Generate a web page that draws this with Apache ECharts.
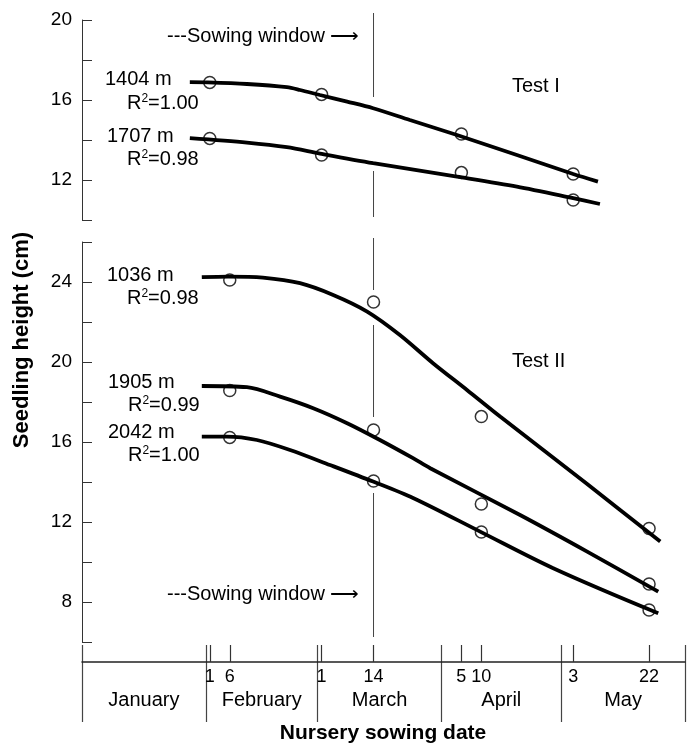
<!DOCTYPE html>
<html>
<head>
<meta charset="utf-8">
<script src="https://cdn.jsdelivr.net/npm/echarts@6/dist/echarts.min.js"></script>
<style>
  html, body { margin: 0; padding: 0; background: #fff; }
  #chart { width: 689px; height: 745px; }
</style>
</head>
<body>
<div id="chart"></div>
<script>
// calendar: day 0 = start of 1 January, day 151 = start of 1 June
const monthStarts = [0, 31, 59, 90, 120, 151];
const monthNames = ['January', 'February', 'March', 'April', 'May'];
const tickDates = [[2, 1], [2, 6], [3, 1], [3, 14], [4, 5], [4, 10], [5, 3], [5, 22]];
const sowingWindowDate = [3, 14];

// observed seedling heights (cm)
const datesTestI = [[2, 1], [3, 1], [4, 5], [5, 3]];
const datesTestII = [[2, 6], [3, 14], [4, 10], [5, 22]];
const obs1404 = [16.88, 16.28, 14.3, 12.3];
const obs1707 = [14.08, 13.25, 12.37, 11.0];
const obs1036 = [24.1, 23.0, 17.27, 11.68];
const obs1905 = [18.57, 16.6, 12.9, 8.9];
const obs2042 = [16.23, 14.05, 11.5, 7.6];

// fitted curves: [day, height]
const fit1404 = [[27, 16.89], [31.5, 16.88], [41.3, 16.8], [51.3, 16.64], [54.6, 16.5], [59.6, 16.25],
  [66.4, 15.92], [72.9, 15.59], [82.1, 15.0], [93.9, 14.25], [108.9, 13.25], [123, 12.3], [129.2, 11.92]];
const fit1707 = [[27, 14.09], [41.3, 13.87], [51.3, 13.64], [59.6, 13.32], [72.9, 12.84], [93.9, 12.17],
  [108.9, 11.67], [123, 11.09], [129.7, 10.8]];
const fit1036 = [[30, 24.24], [36.6, 24.27], [45.3, 24.22], [54.6, 23.94], [62.9, 23.35], [71.4, 22.52],
  [79.6, 21.35], [87.9, 19.94], [96.4, 18.6], [104.7, 17.27], [126.5, 13.9], [144.8, 11.02]];
const fit1905 = [[30, 18.8], [41.3, 18.74], [49.6, 18.27], [57.9, 17.69], [66.4, 16.94], [74.6, 16.1],
  [82.9, 15.19], [87.2, 14.69], [109.7, 12.35], [126.5, 10.52], [144.3, 8.52]];
const fit2042 = [[30, 16.27], [36.2, 16.27], [43.8, 16.1], [52.1, 15.6], [62.1, 14.85], [72.9, 14.02],
  [82.9, 13.2], [99.7, 11.52], [118, 9.69], [144.3, 7.44]];

// sowing window marker pieces (height ranges)
const sowingTestI = [[20.35, 16.15], [12.45, 10.15]];
const sowingTestII = [[26.2, 23.6], [21.85, 17.25], [13.45, 6.25]];

const FONT = "'Liberation Sans', Arial, sans-serif";

function doy(d) { return monthStarts[d[0] - 1] + d[1]; }

const tickDays = tickDates.map(doy);
const dayLabel = {};
tickDates.forEach(d => { dayLabel[doy(d)] = String(d[1]); });
const monthMids = monthNames.map((m, i) => (monthStarts[i] + monthStarts[i + 1]) / 2);
const monthLabel = {};
monthMids.forEach((v, i) => { monthLabel[v] = monthNames[i]; });

function yAxisFor(grid, min, max) {
  return {
    gridIndex: grid, type: 'value', min: min, max: max, interval: 2,
    axisLine: { show: true, onZero: false, lineStyle: { color: '#333', width: 1 } },
    axisTick: { show: true, inside: true, length: 10, lineStyle: { color: '#333' } },
    axisLabel: { margin: 10, fontSize: 19, color: '#000', fontFamily: FONT,
      formatter: v => (v % 4 === 0 ? String(v) : '') },
    splitLine: { show: false }
  };
}

const series = [];
function addTest(grid, dates, obs, fit) {
  series.push({
    type: 'scatter', xAxisIndex: grid, yAxisIndex: grid, z: 2,
    data: dates.map((d, i) => [doy(d), obs[i]]),
    symbol: 'circle', symbolSize: 12,
    itemStyle: { color: 'rgba(0,0,0,0)', borderColor: '#000', borderWidth: 1.5 }
  });
  series.push({
    type: 'line', xAxisIndex: grid, yAxisIndex: grid, z: 3,
    data: fit, smooth: 0.3, showSymbol: false,
    lineStyle: { color: '#000', width: 3.8 }
  });
}
addTest(0, datesTestI, obs1404, fit1404);
addTest(0, datesTestI, obs1707, fit1707);
addTest(1, datesTestII, obs1036, fit1036);
addTest(1, datesTestII, obs1905, fit1905);
addTest(1, datesTestII, obs2042, fit2042);

[[0, sowingTestI], [1, sowingTestII]].forEach(([grid, pieces]) => {
  pieces.forEach(p => {
    series.push({
      type: 'line', xAxisIndex: grid, yAxisIndex: grid, z: 1, clip: false,
      data: [[doy(sowingWindowDate), p[0]], [doy(sowingWindowDate), p[1]]],
      showSymbol: false, lineStyle: { color: '#444', width: 1 }
    });
  });
});

function txt(x, y, text, extra) {
  return Object.assign({
    type: 'text', x: x, y: y,
    style: { text: text, fill: '#000', font: '20px ' + FONT, verticalAlign: 'middle' }
  }, extra || {});
}
function r2(x, y, val) {
  return {
    type: 'text', x: x, y: y,
    style: {
      text: 'R{s|2}=' + val, fill: '#000', font: '20px ' + FONT, verticalAlign: 'middle',
      rich: { s: { fontSize: 12, fontFamily: FONT, verticalAlign: 'top', fill: '#000' } }
    }
  };
}

const option = {
  animation: false,
  backgroundColor: '#fff',
  textStyle: { fontFamily: FONT },
  grid: [
    { left: 82, right: 4, top: 20, height: 200 },
    { left: 82, right: 4, top: 242, height: 400 },
    { left: 82, right: 4, top: 645, height: 77 }
  ],
  xAxis: [
    { gridIndex: 0, type: 'value', min: 0, max: 151, show: false },
    { gridIndex: 1, type: 'value', min: 0, max: 151, show: false },
    {
      gridIndex: 2, type: 'value', min: 0, max: 151, position: 'top', offset: -17,
      axisLine: { show: true, onZero: false, lineStyle: { color: '#222', width: 1.5 } },
      axisTick: { show: true, inside: false, length: 17, customValues: tickDays,
        lineStyle: { color: '#333', width: 1.2 } },
      axisLabel: { inside: true, margin: 6, customValues: tickDays, fontSize: 18, color: '#000',
        fontFamily: FONT, formatter: v => dayLabel[v] || '' },
      splitLine: { show: false }
    },
    {
      gridIndex: 2, type: 'value', min: 0, max: 151, position: 'bottom',
      axisLine: { show: false, onZero: false },
      axisTick: { show: false, customValues: monthStarts },
      axisLabel: { inside: true, margin: 12, customValues: monthMids, fontSize: 20, color: '#000',
        fontFamily: FONT, formatter: v => monthLabel[v] || '' },
      splitLine: { show: true, lineStyle: { color: '#444', width: 1.2 } }
    }
  ],
  yAxis: [
    yAxisFor(0, 10, 20),
    yAxisFor(1, 6, 26),
    { gridIndex: 2, type: 'value', min: 0, max: 1, show: false }
  ],
  series: series,
  graphic: [
    txt(167, 36, '---Sowing window \u27F6'),
    txt(167, 594, '---Sowing window \u27F6'),
    txt(512, 86, 'Test I'),
    txt(512, 361, 'Test II'),
    txt(105, 79, '1404 m'), r2(127, 103, '1.00'),
    txt(107, 136, '1707 m'), r2(127, 159, '0.98'),
    txt(107, 275, '1036 m'), r2(127, 298, '0.98'),
    txt(108, 382, '1905 m'), r2(128, 405, '0.99'),
    txt(108, 432, '2042 m'), r2(128, 455, '1.00'),
    txt(22, 340, 'Seedling height (cm)', { rotation: Math.PI / 2 }),
    txt(383, 733, 'Nursery sowing date')
  ]
};
option.graphic[14].style.font = 'bold 22px ' + FONT;
option.graphic[14].style.align = 'center';
option.graphic[15].style.font = 'bold 21px ' + FONT;
option.graphic[15].style.align = 'center';

const chart = echarts.init(document.getElementById('chart'));
chart.setOption(option);
</script>
</body>
</html>
